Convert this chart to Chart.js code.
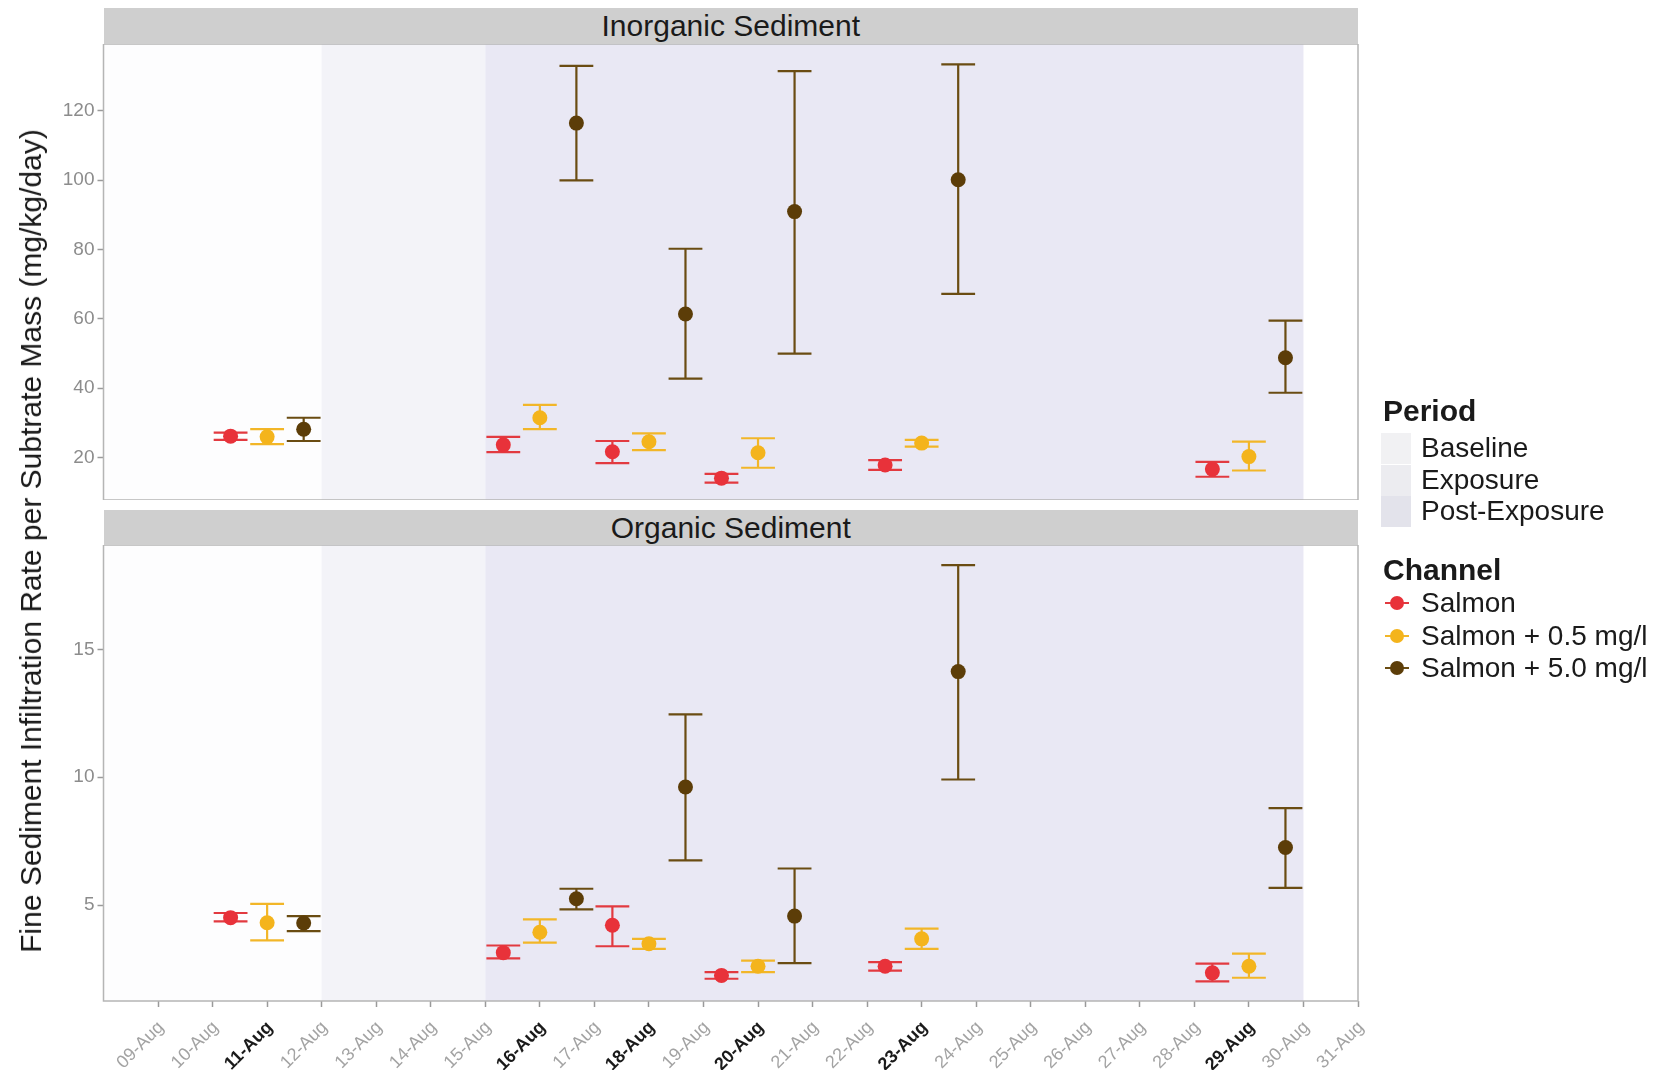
<!DOCTYPE html>
<html>
<head>
<meta charset="utf-8">
<script src="https://cdn.jsdelivr.net/npm/chart.js@4.4.1/dist/chart.umd.min.js"></script>
<style>
html, body { margin: 0; padding: 0; background: #ffffff; }
#wrap { position: relative; width: 1669px; height: 1070px; overflow: hidden; font-family: "Liberation Sans", Arial, sans-serif; color: #1a1a1a; }
#wrap canvas { position: absolute; left: 0; }
.strip { position: absolute; left: 103.5px; width: 1254.5px; background: #cfcfcf; font-size: 30px; text-align: center; color: #1a1a1a; }
#ytitle { position: absolute; left: 31px; top: 541px; transform: translate(-50%, -50%) rotate(-90deg); white-space: nowrap; font-size: 30px; }
.lgTitle { position: absolute; left: 1383px; font-size: 30px; font-weight: bold; transform: translateY(-50%); white-space: nowrap; }
.lgText { position: absolute; left: 1421px; font-size: 28px; transform: translateY(-50%); white-space: nowrap; }
.lgKey { position: absolute; left: 1381px; width: 30px; }
.lgLine { position: absolute; left: 1385px; width: 24px; height: 2px; }
.lgDot { position: absolute; width: 14px; height: 14px; border-radius: 50%; left: 1390px; }
</style>
</head>
<body>
<div id="wrap">
  <div class="strip" id="stripTop" style="top:8px;height:36px;line-height:36px;"></div>
  <canvas id="cTop" width="1400" height="456" style="top:44px;"></canvas>
  <div class="strip" id="stripBot" style="top:510px;height:35px;line-height:35px;"></div>
  <canvas id="cBot" width="1400" height="525" style="top:545px;"></canvas>
  <div id="ytitle"></div>
  <div id="legend"></div>
</div>
<script>
// ---------------- data ----------------
const panelTitles = ['Inorganic Sediment', 'Organic Sediment'];
const yTitle = 'Fine Sediment Infiltration Rate per Subtrate Mass (mg/kg/day)';
const sampleDays = [11, 16, 18, 20, 23, 29];
const channels = ['Salmon', 'Salmon + 0.5 mg/l', 'Salmon + 5.0 mg/l'];

const inorgSalmon   = [26.2, 23.7, 21.7, 14.1, 17.9, 16.7];
const inorgSalmonLo = [25.1, 21.6, 18.4, 12.8, 16.5, 14.5];
const inorgSalmonHi = [27.2, 26.0, 24.8, 15.3, 19.3, 18.8];
const inorgLow      = [26.0, 31.5, 24.6, 21.4, 24.2, 20.3];
const inorgLowLo    = [23.9, 28.2, 22.2, 17.1, 23.2, 16.3];
const inorgLowHi    = [28.2, 35.2, 27.0, 25.6, 25.1, 24.6];
const inorgHigh     = [28.2, 116.4, 61.4, 90.9, 100.1, 48.8];
const inorgHighLo   = [24.8, 99.9, 42.8, 50.0, 67.2, 38.7];
const inorgHighHi   = [31.5, 132.9, 80.2, 131.4, 133.3, 59.5];

const orgSalmon   = [4.51, 3.14, 4.21, 2.25, 2.61, 2.35];
const orgSalmonLo = [4.36, 2.92, 3.39, 2.12, 2.44, 2.02];
const orgSalmonHi = [4.69, 3.42, 4.95, 2.38, 2.77, 2.71];
const orgLow      = [4.31, 3.94, 3.49, 2.61, 3.68, 2.61];
const orgLowLo    = [3.62, 3.53, 3.29, 2.38, 3.29, 2.16];
const orgLowHi    = [5.05, 4.44, 3.68, 2.83, 4.08, 3.10];
const orgHigh     = [4.30, 5.25, 9.62, 4.57, 14.13, 7.25];
const orgHighLo   = [3.98, 4.83, 6.75, 2.73, 9.91, 5.67];
const orgHighHi   = [4.57, 5.64, 12.46, 6.43, 18.29, 8.79];

const tickDays = [9, 10, 11, 12, 13, 14, 15, 16, 17, 18, 19, 20, 21, 22, 23, 24, 25, 26, 27, 28, 29, 30, 31];
const tickLabels = ['09-Aug', '10-Aug', '11-Aug', '12-Aug', '13-Aug', '14-Aug', '15-Aug', '16-Aug', '17-Aug', '18-Aug', '19-Aug', '20-Aug', '21-Aug', '22-Aug', '23-Aug', '24-Aug', '25-Aug', '26-Aug', '27-Aug', '28-Aug', '29-Aug', '30-Aug', '31-Aug'];
const boldLabels = ['11-Aug', '16-Aug', '18-Aug', '20-Aug', '23-Aug', '29-Aug'];
const topTicks = [20, 40, 60, 80, 100, 120];
const bottomTicks = [5, 10, 15];

const periods = ['Baseline', 'Exposure', 'Post-Exposure'];
const periodStart = [8, 12, 15];
const periodEnd = [12, 15, 30];

// ---------------- styles ----------------
const channelColors = ['#e8323a', '#f4b41c', '#5c3d08'];
const barColors = ['#e23a40', '#f2b628', '#6a4c12'];
const dodge = [-0.67, 0, 0.67];
const capHalf = 0.31;
const periodFill = ['#fdfdfe', '#f3f3f8', '#e9e8f4'];
const periodKey = ['#f1f1f3', '#ececf0', '#e3e3eb'];
const xRange = [8, 31];
const topRange = [7.8, 139.2];
const botRange = [1.25, 19.08];
const FONT = '"Liberation Sans", Arial, sans-serif';

Chart.defaults.font.family = FONT;

function buildDatasets(vals, los, his) {
  return channels.map((name, c) => ({
    label: name,
    data: sampleDays.map((d, i) => ({ x: d + dodge[c], y: vals[c][i] })),
    errLo: los[c],
    errHi: his[c],
    barColor: barColors[c],
    pointRadius: 7.5,
    pointHoverRadius: 7.5,
    pointBorderWidth: 0,
    pointBackgroundColor: channelColors[c],
    borderColor: channelColors[c],
    showLine: false
  }));
}

const bgPlugin = {
  id: 'periodBg',
  beforeDatasetsDraw(chart) {
    const { ctx, chartArea: a, scales: { x } } = chart;
    ctx.save();
    ctx.fillStyle = '#ffffff';
    ctx.fillRect(a.left, a.top, a.width, a.height);
    ctx.beginPath(); ctx.rect(a.left, a.top, a.width, a.height); ctx.clip();
    periodStart.forEach((s, i) => {
      const x0 = x.getPixelForValue(s), x1 = x.getPixelForValue(periodEnd[i]);
      ctx.fillStyle = periodFill[i];
      ctx.fillRect(x0, a.top, x1 - x0, a.height);
    });
    ctx.restore();
    // error bars (drawn beneath points)
    const y = chart.scales.y;
    ctx.save();
    chart.data.datasets.forEach(ds => {
      ctx.strokeStyle = ds.barColor;
      ctx.lineWidth = 2.2;
      ds.data.forEach((p, i) => {
        const xp = x.getPixelForValue(p.x);
        const half = x.getPixelForValue(p.x + capHalf) - xp;
        const yl = y.getPixelForValue(ds.errLo[i]);
        const yh = y.getPixelForValue(ds.errHi[i]);
        ctx.beginPath();
        ctx.moveTo(xp, yl); ctx.lineTo(xp, yh);
        ctx.moveTo(xp - half, yl); ctx.lineTo(xp + half, yl);
        ctx.moveTo(xp - half, yh); ctx.lineTo(xp + half, yh);
        ctx.stroke();
      });
    });
    ctx.restore();
  },
  afterDatasetsDraw(chart) {
    const { ctx, chartArea: a } = chart;
    ctx.save();
    ctx.strokeStyle = '#b5b5b5';
    ctx.lineWidth = 1.5;
    ctx.strokeRect(a.left, a.top, a.width, a.height);
    ctx.restore();
  }
};

function zeroPad(s) { s.paddingLeft = 0; s.paddingRight = 0; s.paddingTop = 0; s.paddingBottom = 0; }

function makeChart(id, datasets, yRange, yTicks, showX) {
  return new Chart(document.getElementById(id), {
    type: 'scatter',
    data: { datasets },
    options: {
      responsive: false,
      animation: false,
      devicePixelRatio: 1,
      events: [],
      layout: { autoPadding: false, padding: { left: 0, right: 42, top: 0, bottom: 0 } },
      plugins: { legend: { display: false }, tooltip: { enabled: false } },
      scales: {
        x: {
          type: 'linear', min: xRange[0], max: xRange[1], display: showX,
          afterBuildTicks: s => { s.ticks = tickDays.map(v => ({ value: v })); },
          afterFit: s => { if (showX) s.height = 69; zeroPad(s); },
          grid: { drawOnChartArea: false, drawTicks: true, tickLength: 6, tickColor: '#9a9a9a', tickWidth: 1.5 },
          border: { display: false },
          ticks: {
            autoSkip: false, maxRotation: 45, minRotation: 45, padding: 10, labelOffset: 3,
            callback: (v, i) => tickLabels[i],
            color: c => boldLabels.includes(tickLabels[c.index]) ? '#1a1a1a' : '#a3a3a3',
            font: c => ({ family: FONT, size: 18, weight: boldLabels.includes(tickLabels[c.index]) ? 'bold' : 'normal' })
          }
        },
        y: {
          type: 'linear', min: yRange[0], max: yRange[1],
          afterBuildTicks: s => { s.ticks = yTicks.map(v => ({ value: v })); },
          afterFit: s => { s.width = 103.5; zeroPad(s); },
          grid: { drawOnChartArea: false, drawTicks: true, tickLength: 6, tickColor: '#9a9a9a', tickWidth: 1.5 },
          border: { display: false },
          ticks: { color: '#8c8c8c', font: { family: FONT, size: 19 }, padding: 3, callback: (v, i) => String(yTicks[i]) }
        }
      }
    },
    plugins: [bgPlugin]
  });
}

makeChart('cTop',
  buildDatasets([inorgSalmon, inorgLow, inorgHigh], [inorgSalmonLo, inorgLowLo, inorgHighLo], [inorgSalmonHi, inorgLowHi, inorgHighHi]),
  topRange, topTicks, false);
makeChart('cBot',
  buildDatasets([orgSalmon, orgLow, orgHigh], [orgSalmonLo, orgLowLo, orgHighLo], [orgSalmonHi, orgLowHi, orgHighHi]),
  botRange, bottomTicks, true);

// ---------------- text: strips, axis title, legend ----------------
document.getElementById('stripTop').textContent = panelTitles[0];
document.getElementById('stripBot').textContent = panelTitles[1];
document.getElementById('ytitle').textContent = yTitle;

const lg = document.getElementById('legend');
function add(cls, text, style) {
  const d = document.createElement('div');
  d.className = cls; if (text) d.textContent = text; d.setAttribute('style', style);
  lg.appendChild(d);
}
add('lgTitle', 'Period', 'top:411px;');
const periodY = [448, 480, 511];
periods.forEach((p, i) => {
  add('lgKey', '', `top:${periodY[i] - 15}px;height:31px;background:${periodKey[i]};`);
  add('lgText', p, `top:${periodY[i]}px;`);
});
add('lgTitle', 'Channel', 'top:570px;');
const chanY = [603, 636, 668];
channels.forEach((c, i) => {
  add('lgLine', '', `top:${chanY[i] - 1}px;background:${barColors[i]};`);
  add('lgDot', '', `top:${chanY[i] - 7}px;background:${channelColors[i]};`);
  add('lgText', c, `top:${chanY[i]}px;`);
});
</script>
</body>
</html>
